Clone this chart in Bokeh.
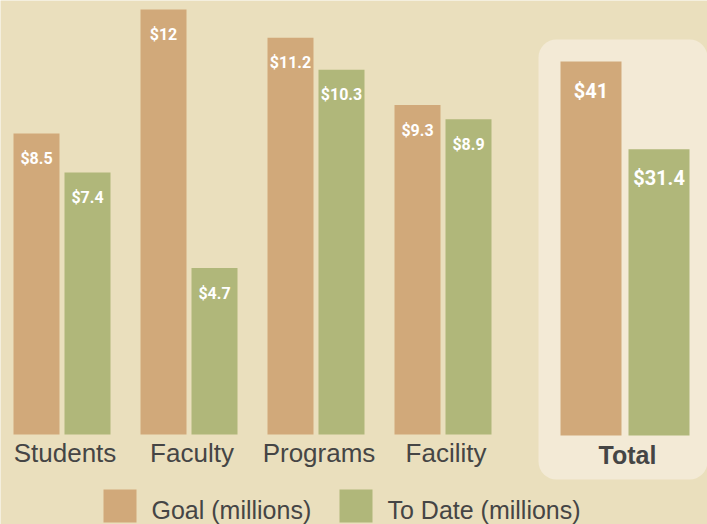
from bokeh.plotting import figure
from bokeh.models import Range1d, ColumnDataSource
from bokeh.core.properties import value
from bokeh.embed import file_html
from bokeh.resources import INLINE

# ---- data ----
categories = ["Students", "Faculty", "Programs", "Facility"]
goal = [8.5, 12, 11.2, 9.3]
to_date = [7.4, 4.7, 10.3, 8.9]
total_label = "Total"
total_goal = 41
total_to_date = 31.4
legend_labels = ["Goal (millions)", "To Date (millions)"]

# ---- styles ----
BG = "#eadfbd"
PANEL = "#f3ead6"
TAN = "#d1a97a"
GREEN = "#b0b77a"
TEXT = "#454545"
NARROW = value("Roboto")
SANS = value("Liberation Sans")

W, H = 707, 524
p = figure(width=W, height=H, x_range=Range1d(0, W), y_range=Range1d(0, H),
           x_axis_type=None, y_axis_type=None, toolbar_location=None,
           output_backend="svg", min_border=0)
p.background_fill_color = BG
p.border_fill_color = BG
p.outline_line_color = None
p.grid.visible = False

# scales: main chart and total panel
main_base, main_scale = H - 434, 35.42
tot_base, tot_scale = H - 435, 9.12
p.extra_y_ranges = {
    "main": Range1d(-main_base / main_scale, (H - main_base) / main_scale),
    "tot": Range1d(-tot_base / tot_scale, (H - tot_base) / tot_scale),
}

# total panel background
p.quad(left=[538], right=[707], top=[H - 39], bottom=[H - 479],
       fill_color=PANEL, line_color=None, border_radius=18)

# bar layout
bw = 46
pitch = 127
goal_x = [36 + pitch * i for i in range(len(categories))]
date_x = [87 + pitch * i for i in range(len(categories))]
center_x = [(a + b) / 2 for a, b in zip(goal_x, date_x)]

def fmt(v):
    return f"${v:g}"

src_g = ColumnDataSource(dict(x=goal_x, top=goal, lab=[fmt(v) for v in goal]))
src_d = ColumnDataSource(dict(x=date_x, top=to_date, lab=[fmt(v) for v in to_date]))
p.vbar(x="x", top="top", bottom=0, width=bw, source=src_g, fill_color=TAN,
       line_color=None, y_range_name="main")
p.vbar(x="x", top="top", bottom=0, width=bw, source=src_d, fill_color=GREEN,
       line_color=None, y_range_name="main")
for s in (src_g, src_d):
    p.text(x="x", y="top", text="lab", source=s, y_range_name="main",
           y_offset=25, text_align="center", text_baseline="middle",
           text_color="white", text_font=NARROW, text_font_style="bold",
           text_font_size="16px")

# total bars
tw = 61
src_t = ColumnDataSource(dict(x=[590.5, 658.5], top=[total_goal, total_to_date],
                              c=[TAN, GREEN], lab=[fmt(total_goal), fmt(total_to_date)]))
p.vbar(x="x", top="top", bottom=0, width=tw, source=src_t, fill_color="c",
       line_color=None, y_range_name="tot")
p.text(x="x", y="top", text="lab", source=src_t, y_range_name="tot",
       y_offset=29, text_align="center", text_baseline="middle",
       text_color="white", text_font=NARROW, text_font_style="bold",
       text_font_size="20px")

# category labels
p.text(x=[c + 3 for c in center_x], y=[H - 452] * len(categories), text=categories,
       text_align="center", text_baseline="middle", text_color=TEXT,
       text_font=SANS, text_font_size="26px")
p.text(x=[627], y=[H - 454], text=[total_label], text_align="center",
       text_baseline="middle", text_color=TEXT, text_font=SANS,
       text_font_style="bold", text_font_size="25px")

# legend
sq_left = [103, 339]
p.quad(left=sq_left, right=[l + 33 for l in sq_left], top=[H - 489] * 2,
       bottom=[H - 522] * 2, fill_color=[TAN, GREEN], line_color=None)
p.text(x=[l + 48 for l in sq_left], y=[H - 509] * 2, text=legend_labels,
       text_align="left", text_baseline="middle", text_color=TEXT,
       text_font=SANS, text_font_size="25px")

open("out.html", "w").write(file_html(p, INLINE))
